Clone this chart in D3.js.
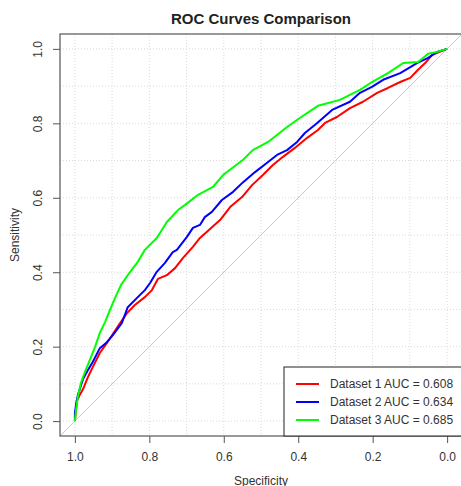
<!DOCTYPE html>
<html>
<head>
<meta charset="utf-8">
<script src="https://cdn.jsdelivr.net/npm/d3@7"></script>
<style>
  body { margin: 0; background: #fff; }
  svg text { font-family: "Liberation Sans", Arial, sans-serif; }
</style>
</head>
<body>
<svg id="chart" width="461" height="486"></svg>
<script>
// ROC points as [specificity, sensitivity]
var roc1 = [[1.000,0.000],[0.997,0.030],[0.995,0.054],[0.987,0.070],[0.978,0.086],[0.965,0.118],[0.952,0.145],
  [0.933,0.183],[0.914,0.210],[0.898,0.234],[0.879,0.263],[0.860,0.290],[0.839,0.312],[0.812,0.333],[0.793,0.352],
  [0.777,0.382],[0.753,0.392],[0.731,0.411],[0.710,0.438],[0.683,0.468],[0.664,0.492],[0.637,0.516],[0.610,0.540],
  [0.583,0.575],[0.551,0.602],[0.524,0.634],[0.495,0.661],[0.468,0.688],[0.441,0.710],[0.409,0.734],[0.376,0.761],
  [0.347,0.782],[0.328,0.801],[0.296,0.817],[0.261,0.841],[0.226,0.858],[0.188,0.882],[0.159,0.895],[0.126,0.911],
  [0.099,0.922],[0.078,0.944],[0.059,0.962],[0.040,0.984],[0.000,1.000]];
var roc2 = [[1.000,0.000],[1.000,0.022],[0.997,0.043],[0.992,0.070],[0.978,0.113],[0.965,0.137],[0.952,0.159],
  [0.933,0.196],[0.914,0.212],[0.898,0.231],[0.874,0.263],[0.858,0.306],[0.833,0.331],[0.812,0.352],[0.798,0.371],
  [0.780,0.401],[0.758,0.425],[0.737,0.454],[0.726,0.460],[0.699,0.495],[0.683,0.519],[0.664,0.527],[0.651,0.548],
  [0.632,0.562],[0.605,0.594],[0.575,0.616],[0.548,0.642],[0.516,0.669],[0.481,0.696],[0.457,0.715],[0.430,0.728],
  [0.403,0.750],[0.382,0.774],[0.349,0.801],[0.309,0.836],[0.261,0.858],[0.234,0.882],[0.202,0.898],[0.172,0.917],
  [0.126,0.935],[0.081,0.962],[0.051,0.976],[0.027,0.992],[0.000,1.000]];
var roc3 = [[1.000,0.000],[0.997,0.030],[0.992,0.065],[0.984,0.102],[0.973,0.132],[0.960,0.164],[0.946,0.199],
  [0.933,0.237],[0.919,0.266],[0.906,0.298],[0.892,0.331],[0.876,0.366],[0.858,0.392],[0.833,0.425],[0.812,0.460],
  [0.780,0.492],[0.753,0.535],[0.723,0.567],[0.704,0.581],[0.669,0.608],[0.629,0.629],[0.602,0.661],[0.548,0.702],
  [0.522,0.728],[0.481,0.750],[0.430,0.790],[0.395,0.815],[0.347,0.847],[0.288,0.863],[0.234,0.890],[0.202,0.911],
  [0.159,0.935],[0.118,0.962],[0.078,0.965],[0.051,0.987],[0.027,0.992],[0.000,1.000]];

var seriesNames = ["Dataset 1", "Dataset 2", "Dataset 3"];
var aucValues = [0.608, 0.634, 0.685];
var seriesColors = ["#ff0000", "#0000ff", "#00ff00"];
var tickValues = [1.0, 0.8, 0.6, 0.4, 0.2, 0.0];
var gridValues = d3.range(0, 11).map(function (i) { return i / 10; });

var svg = d3.select("#chart");
// plot box edges (named so they don't clash with window.top)
var boxL = 60, boxR = 462, boxT = 34, boxB = 436;

var x = d3.scaleLinear().domain([1.04, -0.04]).range([boxL, boxR]);
var y = d3.scaleLinear().domain([-0.04, 1.04]).range([boxB, boxT]);

svg.append("defs").append("clipPath").attr("id", "plotclip")
  .append("rect").attr("x", boxL).attr("y", boxT).attr("width", boxR - boxL).attr("height", boxB - boxT);

// grid
var grid = svg.append("g");
grid.selectAll(".gx").data(gridValues).enter().append("line")
  .attr("x1", d => x(d)).attr("x2", d => x(d)).attr("y1", boxT).attr("y2", boxB)
  .attr("stroke", "#d9d9d9").attr("stroke-dasharray", "1,2");
grid.selectAll(".gy").data(gridValues).enter().append("line")
  .attr("y1", d => y(d)).attr("y2", d => y(d)).attr("x1", boxL).attr("x2", boxR)
  .attr("stroke", "#d9d9d9").attr("stroke-dasharray", "1,2");

// diagonal reference
var plotArea = svg.append("g").attr("clip-path", "url(#plotclip)");
plotArea.append("line")
  .attr("x1", x(1.04)).attr("y1", y(-0.04)).attr("x2", x(-0.04)).attr("y2", y(1.04))
  .attr("stroke", "#c8c8c8").attr("stroke-width", 1);

// curves
var line = d3.line().x(d => x(d[0])).y(d => y(d[1]));
[roc1, roc2, roc3].forEach(function (pts, i) {
  plotArea.append("path").datum(pts)
    .attr("d", line)
    .attr("fill", "none")
    .attr("stroke", seriesColors[i])
    .attr("stroke-width", 2)
    .attr("stroke-linejoin", "round");
});

// axes
var xAxis = svg.append("g").attr("transform", "translate(0," + boxB + ")")
  .call(d3.axisBottom(x).tickValues(tickValues).tickFormat(d3.format(".1f")).tickSize(7).tickPadding(9));
var yAxis = svg.append("g").attr("transform", "translate(" + boxL + ",0)")
  .call(d3.axisLeft(y).tickValues(tickValues).tickFormat(d3.format(".1f")).tickSize(7));
[xAxis, yAxis].forEach(function (a) {
  a.select(".domain").remove();
  a.selectAll("line").attr("stroke", "#555");
  a.selectAll("text").attr("font-size", 12).attr("fill", "#333")
    .attr("font-family", "Liberation Sans, Arial, sans-serif");
});
// R draws y tick labels parallel to the axis
yAxis.selectAll(".tick text")
  .attr("x", -22).attr("y", 0).attr("dy", "0.35em")
  .attr("text-anchor", "middle")
  .attr("transform", "rotate(-90,-22,0)");

// plot box
svg.append("rect").attr("x", boxL).attr("y", boxT).attr("width", boxR - boxL).attr("height", boxB - boxT)
  .attr("fill", "none").attr("stroke", "#555").attr("stroke-width", 1.2);

// titles
svg.append("text").attr("x", (boxL + boxR) / 2).attr("y", 24).attr("text-anchor", "middle")
  .attr("font-size", 15).attr("font-weight", "bold").attr("fill", "#222").text("ROC Curves Comparison");
svg.append("text").attr("x", (boxL + boxR) / 2).attr("y", 485).attr("text-anchor", "middle")
  .attr("font-size", 12).attr("fill", "#333").text("Specificity");
svg.append("text").attr("transform", "translate(19," + ((boxT + boxB) / 2) + ") rotate(-90)")
  .attr("text-anchor", "middle").attr("font-size", 12).attr("fill", "#333").text("Sensitivity");

// legend
var legend = svg.append("g");
legend.append("rect").attr("x", 284).attr("y", 367).attr("width", 190).attr("height", boxB - 367)
  .attr("fill", "#fff").attr("stroke", "#222").attr("stroke-width", 1);
var rows = legend.selectAll(".row").data(seriesNames).enter().append("g")
  .attr("transform", (d, i) => "translate(0," + (384 + i * 18) + ")");
rows.append("line").attr("x1", 296).attr("x2", 319).attr("y1", 0).attr("y2", 0)
  .attr("stroke", (d, i) => seriesColors[i]).attr("stroke-width", 2);
rows.append("text").attr("x", 330).attr("y", 0).attr("dy", "0.35em")
  .attr("font-size", 12).attr("fill", "#333")
  .text((d, i) => d + " AUC = " + aucValues[i].toFixed(3));
</script>
</body>
</html>
